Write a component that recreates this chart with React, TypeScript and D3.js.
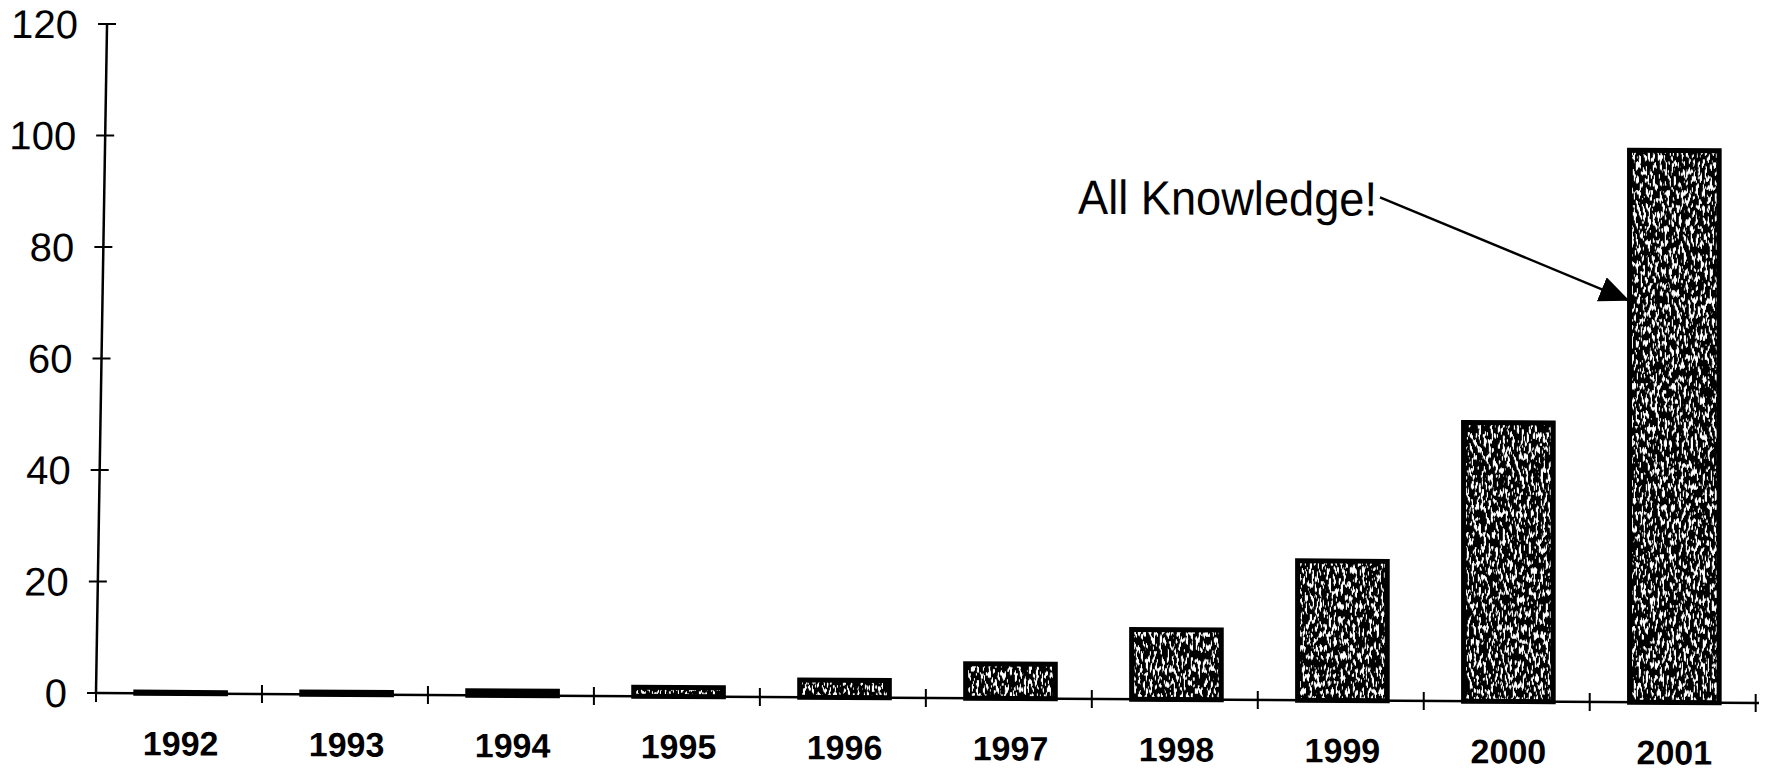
import * as d3 from "d3";

// values
const years = ["1992", "1993", "1994", "1995", "1996", "1997", "1998", "1999", "2000", "2001"];
const knowledge = [0.2, 0.4, 0.8, 1.6, 3.1, 6.2, 12.5, 25, 50, 99];
const yTicks = [0, 20, 40, 60, 80, 100, 120];

const annotationText = "All Knowledge!";
const annotationYear = "2001";

const width = 1770;
const height = 773;

// plot box (the scan is slightly skewed, so keep that)
const originX = 96;
const originY = 693;
const plotW = 1663;
const plotH = 669;
const sinkRight = 0.006; // x axis drops a little to the right
const leanAxis = 0.0165; // y axis leans right going up

const font = "'Liberation Sans', Arial, sans-serif";

const App = () => {
  const x = d3.scaleBand<string>().domain(years).range([0, plotW]).paddingInner(0.46).paddingOuter(0.24);
  const y = d3.scaleLinear().domain([0, 120]).range([plotH, 0]);
  const step = x.step();

  const tipX = x(annotationYear)!;
  const tipY = y(72);
  const startX = 1284;
  const startY = y(90.3);

  return (
    <svg width={width} height={height} style={{ position: "absolute", left: 0, top: 0, background: "#fff" }}>
      <defs>
        <filter id="speckle" x="0" y="0" width="1" height="1">
          <feTurbulence type="fractalNoise" baseFrequency="0.42 0.14" numOctaves="2" seed="7" result="noise" />
          <feColorMatrix
            in="noise"
            type="matrix"
            values="0 0 0 0 1  0 0 0 0 1  0 0 0 0 1  24 0 0 0 -13.5"
            result="spots"
          />
          <feComposite in="spots" in2="SourceAlpha" operator="in" result="inside" />
          <feMerge>
            <feMergeNode in="SourceGraphic" />
            <feMergeNode in="inside" />
          </feMerge>
        </filter>
        <marker
          id="head"
          viewBox="0 0 30 26"
          refX="30"
          refY="13"
          markerWidth="30"
          markerHeight="26"
          markerUnits="userSpaceOnUse"
          orient="auto"
        >
          <path d="M0,0 L30,13 L0,26 Z" fill="#000" />
        </marker>
      </defs>

      <g transform={`matrix(1, ${sinkRight}, 0, 1, ${originX}, ${originY - plotH})`}>
        {/* bars */}
        {years.map((yr, i) => (
          <g key={yr}>
            <rect
              x={x(yr)}
              y={y(knowledge[i])}
              width={x.bandwidth()}
              height={plotH - y(knowledge[i])}
              fill="#000"
              filter="url(#speckle)"
            />
            <rect
              x={x(yr)}
              y={y(knowledge[i])}
              width={x.bandwidth()}
              height={plotH - y(knowledge[i])}
              fill="none"
              stroke="#000"
              strokeWidth={5}
            />
          </g>
        ))}

        {/* x axis */}
        <line x1={0} x2={plotW} y1={plotH} y2={plotH} stroke="#000" strokeWidth={2.5} />
        {d3.range(years.length + 1).map(i => (
          <line key={i} x1={i * step} x2={i * step} y1={plotH - 9} y2={plotH + 9} stroke="#000" strokeWidth={2} />
        ))}
        {years.map(yr => (
          <text
            key={yr}
            x={x(yr)! + x.bandwidth() / 2}
            y={plotH + 62}
            textAnchor="middle"
            fontFamily={font}
            fontWeight="bold"
            fontSize={34}
          >
            {yr}
          </text>
        ))}

        {/* y axis */}
        <g transform={`matrix(1, 0, ${-leanAxis}, 1, ${leanAxis * plotH}, 0)`}>
          <line x1={0} x2={0} y1={0} y2={plotH} stroke="#000" strokeWidth={2.5} />
          {yTicks.map(t => (
            <g key={t}>
              <line x1={-9} x2={9} y1={y(t)} y2={y(t)} stroke="#000" strokeWidth={2} />
              <text x={-29} y={y(t)} dy="0.36em" textAnchor="end" fontFamily={font} fontSize={40}>
                {t}
              </text>
            </g>
          ))}
        </g>

        {/* annotation */}
        <text x={982} y={y(87)} fontFamily={font} fontSize={48} textLength={299} lengthAdjust="spacingAndGlyphs">
          {annotationText}
        </text>
        <line x1={startX} y1={startY} x2={tipX} y2={tipY} stroke="#000" strokeWidth={2.5} markerEnd="url(#head)" />
      </g>
    </svg>
  );
};

export default App;
